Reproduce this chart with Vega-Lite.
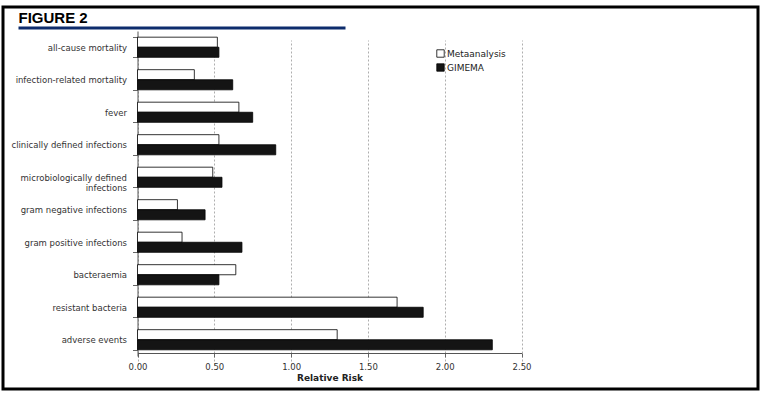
{
  "$schema": "https://vega.github.io/schema/vega-lite/v6.json",
  "width": 762,
  "height": 394,
  "autosize": {"type": "fit", "contains": "padding"},
  "padding": {"left": 3, "top": 3, "right": 4, "bottom": 5},
  "background": "white",
  "config": {"view": {"stroke": "black", "strokeWidth": 3}, "font": "DejaVu Sans"},
  "layer": [
    {
      "data": {
        "values": [
          {"cat": "all-cause mortality", "series": "Metaanalysis", "rr": 0.52},
          {"cat": "all-cause mortality", "series": "GIMEMA", "rr": 0.53},
          {"cat": "infection-related mortality", "series": "Metaanalysis", "rr": 0.37},
          {"cat": "infection-related mortality", "series": "GIMEMA", "rr": 0.62},
          {"cat": "fever", "series": "Metaanalysis", "rr": 0.66},
          {"cat": "fever", "series": "GIMEMA", "rr": 0.75},
          {"cat": "clinically defined infections", "series": "Metaanalysis", "rr": 0.53},
          {"cat": "clinically defined infections", "series": "GIMEMA", "rr": 0.90},
          {"cat": "microbiologically defined infections", "series": "Metaanalysis", "rr": 0.49},
          {"cat": "microbiologically defined infections", "series": "GIMEMA", "rr": 0.55},
          {"cat": "gram negative infections", "series": "Metaanalysis", "rr": 0.26},
          {"cat": "gram negative infections", "series": "GIMEMA", "rr": 0.44},
          {"cat": "gram positive infections", "series": "Metaanalysis", "rr": 0.29},
          {"cat": "gram positive infections", "series": "GIMEMA", "rr": 0.68},
          {"cat": "bacteraemia", "series": "Metaanalysis", "rr": 0.64},
          {"cat": "bacteraemia", "series": "GIMEMA", "rr": 0.53},
          {"cat": "resistant bacteria", "series": "Metaanalysis", "rr": 1.69},
          {"cat": "resistant bacteria", "series": "GIMEMA", "rr": 1.86},
          {"cat": "adverse events", "series": "Metaanalysis", "rr": 1.30},
          {"cat": "adverse events", "series": "GIMEMA", "rr": 2.31}
        ]
      },
      "mark": {"type": "bar", "stroke": "black", "strokeWidth": 0.8},
      "encoding": {
        "y": {
          "field": "cat",
          "type": "nominal",
          "sort": ["all-cause mortality", "infection-related mortality", "fever", "clinically defined infections", "microbiologically defined infections", "gram negative infections", "gram positive infections", "bacteraemia", "resistant bacteria", "adverse events"],
          "scale": {"range": [24, 349], "paddingInner": 0.38, "paddingOuter": 0.19},
          "axis": {
            "orient": "left",
            "offset": -134.5,
            "title": null,
            "grid": false,
            "labelFontSize": 8.5,
            "labelColor": "#333",
            "labelPadding": 6,
            "labelLimit": 300,
            "labelLineHeight": 10,
            "labelExpr": "datum.value == 'microbiologically defined infections' ? ['microbiologically defined', 'infections'] : datum.value",
            "tickBand": "extent",
            "tickSize": 5,
            "tickColor": "#666",
            "domainColor": "#555"
          }
        },
        "yOffset": {
          "field": "series",
          "sort": ["Metaanalysis", "GIMEMA"],
          "scale": {"paddingInner": 0, "paddingOuter": 0}
        },
        "x": {
          "field": "rr",
          "type": "quantitative",
          "scale": {"domain": [0, 2.5], "range": [134.5, 518.5], "nice": false},
          "axis": {
            "orient": "bottom",
            "offset": -36,
            "values": [0, 0.5, 1, 1.5, 2, 2.5],
            "format": ".2f",
            "labelFlush": false,
            "labelFontSize": 8.5,
            "labelColor": "#333",
            "labelPadding": 5,
            "tickSize": 4,
            "tickColor": "#666",
            "domainColor": "#555",
            "grid": true,
            "gridDash": [2, 2],
            "gridColor": "#999",
            "gridWidth": 0.8,
            "title": "Relative Risk",
            "titleFontSize": 9,
            "titleFontWeight": "bold",
            "titleColor": "#222",
            "titlePadding": 3
          }
        },
        "color": {
          "field": "series",
          "type": "nominal",
          "scale": {"domain": ["Metaanalysis", "GIMEMA"], "range": ["#ffffff", "#141414"]},
          "legend": {
            "orient": "none",
            "legendX": 433,
            "legendY": 42,
            "title": null,
            "symbolType": "square",
            "symbolSize": 55,
            "symbolStrokeColor": "black",
            "symbolStrokeWidth": 0.8,
            "labelFontSize": 9,
            "labelColor": "#222",
            "rowPadding": 3,
            "labelOffset": 2
          }
        }
      }
    },
    {
      "data": {"values": [{"u": 0}, {"u": 1}]},
      "mark": {"type": "rule", "opacity": 0},
      "encoding": {
        "x": {
          "field": "u",
          "type": "quantitative",
          "scale": {"domain": [0, 1], "range": [15, 342], "nice": false},
          "axis": {
            "orient": "top",
            "offset": -20.5,
            "labels": false,
            "ticks": false,
            "grid": false,
            "domainColor": "#0d2c6c",
            "domainWidth": 3,
            "title": "FIGURE 2",
            "titleFont": "Liberation Sans",
            "titleFontSize": 15,
            "titleFontWeight": "bold",
            "titleColor": "black",
            "titleAnchor": "start",
            "titleAlign": "left",
            "titlePadding": 2
          }
        }
      }
    }
  ],
  "resolve": {"scale": {"x": "independent"}, "axis": {"x": "independent"}}
}
